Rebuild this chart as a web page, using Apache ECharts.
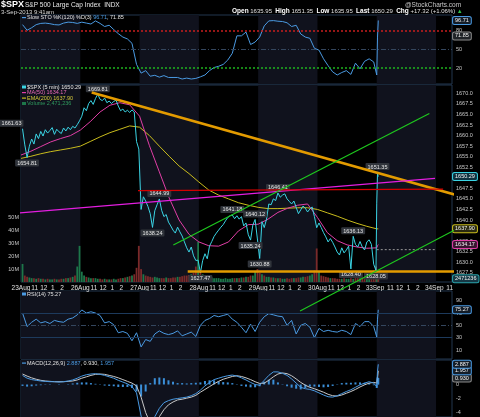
<!DOCTYPE html>
<html>
<head>
<meta charset="utf-8">
<title>$SPX 5 min</title>
<script src="https://cdn.jsdelivr.net/npm/echarts@6.0.0/dist/echarts.min.js"></script>
<style>
  html, body { margin: 0; padding: 0; background: #000; }
  #chart { width: 480px; height: 417px; }
</style>
</head>
<body>
<div id="chart"></div>
<script>
// ---- values ----
const BARS = 78;                    // 5-min bars in one session
const X_MAX = 567;                  // 7 sessions + start of 4 Sep
const tailBars = [468, 469, 470];   // 3 Sep 9:30, 9:35, 9:40

const days = ['23Aug', '26Aug', '27Aug', '28Aug', '29Aug', '30Aug', '3Sep', '4Sep'];
const hourTicks = [[18, '11'], [30, '12'], [42, '1'], [54, '2'], [66, '3']];
const threeShownOn = ['30Aug', '3Sep'];
const priceTicks = [1627.5, 1630.0, 1632.5, 1635.0, 1637.5, 1640.0, 1642.5, 1645.0, 1647.5,
  1650.0, 1652.5, 1655.0, 1657.5, 1660.0, 1662.5, 1665.0, 1667.5, 1670.0];
const volumeTicks = [10, 20, 30, 40, 50];
const stoTicks = [20, 50, 80];
const rsiTicks = [10, 30, 50, 70, 90];
const macdTicks = [-4, -2, 0];

// $SPX closes, every 3rd bar of each session (26 per day)
const spx = [
  1661.63, 1657.8, 1654.81, 1657.5, 1659.2, 1658.0, 1660.4, 1659.3, 1661.0, 1659.9, 1661.4, 1660.6, 1661.2,
  1661.9, 1660.3, 1661.5, 1660.9, 1660.5, 1661.8, 1661.1, 1662.0, 1661.4, 1662.2, 1661.8, 1662.6, 1663.5,
  1664.6, 1666.6, 1665.9, 1667.6, 1668.3, 1667.4, 1668.8, 1669.81, 1668.6, 1668.3, 1668.9, 1667.8, 1668.2,
  1667.6, 1668.1, 1668.4, 1667.0, 1665.9, 1666.3, 1665.6, 1666.0, 1665.5, 1666.1, 1665.6, 1658.6, 1656.8,
  1642.5, 1645.5, 1644.5, 1643.2, 1641.5, 1638.24, 1642.2, 1643.6, 1644.99, 1642.3, 1640.8, 1641.3, 1639.5,
  1638.6, 1637.6, 1636.9, 1638.3, 1637.2, 1636.2, 1634.8, 1633.4, 1632.4, 1633.6, 1631.5, 1630.4, 1630.48,
  1627.47, 1630.4, 1632.0, 1630.8, 1633.8, 1634.9, 1636.1, 1636.9, 1637.6, 1638.3, 1638.9, 1639.8, 1640.6,
  1641.0, 1641.18, 1640.3, 1641.0, 1640.2, 1640.8, 1638.6, 1639.3, 1636.5, 1635.24, 1638.8, 1640.12, 1635.5,
  1630.88, 1639.6, 1638.2, 1640.2, 1643.8, 1643.6, 1645.0, 1644.6, 1646.41, 1645.4, 1645.9, 1646.2, 1645.0,
  1644.4, 1643.8, 1644.5, 1643.0, 1641.5, 1642.4, 1643.3, 1642.8, 1641.9, 1642.6, 1643.1, 1640.8, 1638.17,
  1639.3, 1638.2, 1637.0, 1636.0, 1634.8, 1635.6, 1634.7, 1633.6, 1632.4, 1631.7, 1633.4, 1632.2, 1632.9,
  1633.8, 1628.40, 1636.13, 1634.2, 1633.6, 1634.9, 1633.6, 1632.9, 1634.8, 1635.3, 1634.2, 1629.5, 1628.05
];
const spxTail = [1644.0, 1651.0, 1650.29];
const prevClose = 1632.97;

// volume in millions, same bars as spx
const volume = [
  14, 5, 4, 3.5, 3, 3, 2.5, 3, 2.5, 2.5, 2, 2.5, 2, 2, 2.5, 2, 2, 2.5, 2.5, 3, 3, 3.5, 4, 5, 12, 28,
  8, 5, 4, 3.5, 3, 3, 3, 2.5, 2.5, 2, 2.5, 2, 2, 2, 2.5, 2, 2.5, 3, 3, 3.5, 4, 4.5, 5, 6, 11, 28,
  10, 6, 5, 4.5, 4, 3.5, 4, 3.5, 3, 3, 3, 3.5, 3, 3, 3.5, 3.5, 4, 4, 4.5, 5, 5, 5.5, 6, 7, 12, 31,
  9, 6, 5, 4, 3.5, 3.5, 3, 3, 3, 2.5, 2.5, 3, 2.5, 2.5, 3, 3, 3, 3, 3.5, 3.5, 4, 4, 5, 5, 8, 10,
  7, 6, 5, 4, 4, 3.5, 3.5, 3, 3, 3, 2.5, 2.5, 3, 2.5, 3, 3, 3, 3.5, 3.5, 4, 4, 4.5, 5, 6, 9, 26,
  8, 5, 4.5, 4, 3.5, 3, 3, 3, 2.5, 2.5, 2.5, 3, 2.5, 2.5, 3, 2.5, 3, 3, 3, 3.5, 3.5, 4, 5, 6, 9, 12
];
const volumeTail = [8, 5, 2.471236];

// MA(50) and EMA(200), every 13th bar from 23 Aug open
const ma50 = [1655.4, 1656.3, 1657.4, 1658.5, 1659.3, 1660.0, 1661.3, 1663.3, 1665.6, 1667.2, 1667.8, 1667.3,
  1664.6, 1657.6, 1651.4, 1645.2, 1640.0, 1636.6, 1634.8, 1633.9, 1633.8, 1634.8, 1637.4, 1638.9, 1639.0,
  1640.2, 1641.8, 1642.8, 1643.5, 1643.8, 1640.6, 1637.0, 1635.1, 1634.1, 1633.6, 1633.3, 1633.4];
const ma50Tail = [1633.9, 1634.17];
const ema200 = [1654.6, 1655.1, 1655.7, 1656.2, 1656.6, 1657.0, 1657.5, 1658.6, 1659.7, 1660.7, 1661.5, 1662.3,
  1662.0, 1660.0, 1657.5, 1655.1, 1652.8, 1651.0, 1649.0, 1647.1, 1645.9, 1645.0, 1644.1, 1643.5, 1643.0,
  1642.7, 1642.7, 1642.8, 1642.9, 1642.9, 1642.5, 1641.7, 1640.9, 1640.0, 1639.2, 1638.5, 1637.9];
const ema200Tail = [1637.9, 1637.90];

// indicators, every 6th bar of each session (13 per day)
const slowSto = [
  90, 81, 85, 90, 92, 92.5, 91.5, 90, 89.5, 92.5, 94, 93.5, 92,
  94, 92.5, 91, 96, 92, 87, 89, 82, 75.5, 70, 67, 60, 26,
  12, 16, 7, 8.5, 5.5, 8, 5, 5, 5, 2.5, 4, 2.5, 3.5,
  6, 9, 16, 21, 23, 26, 33, 44, 72, 72, 78, 58, 62,
  70, 88, 96, 96.5, 95.5, 95, 93, 87, 89, 75, 70, 68, 52,
  49, 35, 24, 14, 9, 13, 16, 10, 28, 19, 31, 35, 30
];
const slowStoTail = [9, 70, 96.71];
const rsi = [
  70, 48, 55, 60, 54, 56, 53, 58, 56, 55, 60, 62, 67,
  75, 70, 72, 70, 66, 54, 56, 51, 38, 40, 37, 25, 38,
  15, 27, 24, 36, 41, 37, 35, 37, 41, 33, 36, 39, 32,
  50, 58, 61, 66, 64, 66, 68, 60, 55, 47, 38, 52, 40,
  55, 64, 69, 67, 65, 64, 50, 58, 36, 50, 53, 47, 30,
  45, 40, 42, 40, 39, 42, 40, 35, 53, 48, 56, 56, 48
];
const rsiTail = [31, 60, 75.27];
const macd = [
  1.3, 0.9, 0.7, 0.6, 0.5, 0.45, 0.4, 0.4, 0.35, 0.4, 0.5, 0.65, 0.9,
  1.2, 1.4, 1.5, 1.55, 1.45, 1.3, 1.1, 0.9, 0.6, 0.35, 0.1, -0.3, -1.2,
  -4.5, -6.8, -6.0, -4.6, -3.4, -2.6, -2.3, -2.1, -2.0, -1.9, -1.8, -1.6, -1.3,
  -0.8, -0.2, 0.3, 0.7, 0.9, 1.1, 1.25, 1.35, 1.2, 0.95, 0.65, 0.3, 0.0,
  -0.1, 0.6, 1.3, 1.8, 1.8, 1.6, 1.3, 0.8, 0.2, -0.4, -0.6, -0.7, -0.9,
  -1.2, -1.5, -1.75, -1.8, -1.6, -1.3, -1.0, -0.75, -0.4, -0.05, 0.2, 0.4, 0.2
];
const macdTail = [-0.3, 1.9, 2.887];
const macdSignal = [
  1.5, 1.2, 0.95, 0.75, 0.6, 0.5, 0.45, 0.4, 0.4, 0.4, 0.45, 0.5, 0.65,
  0.9, 1.1, 1.3, 1.45, 1.5, 1.45, 1.3, 1.15, 0.95, 0.7, 0.45, 0.2, -0.2,
  -1.8, -4.0, -5.5, -5.6, -4.6, -3.6, -2.9, -2.5, -2.2, -2.1, -1.95, -1.8, -1.55,
  -1.1, -0.7, -0.3, 0.1, 0.45, 0.75, 0.95, 1.15, 1.25, 1.15, 0.95, 0.7, 0.4,
  0.15, 0.2, 0.6, 1.1, 1.5, 1.65, 1.55, 1.25, 0.8, 0.3, -0.1, -0.4, -0.6,
  -0.85, -1.1, -1.4, -1.6, -1.65, -1.5, -1.25, -1.0, -0.7, -0.35, -0.05, 0.2, 0.3
];
const macdSignalTail = [0.2, 0.9, 1.957];
const macdHist = [
  -0.2, -0.3, -0.25, -0.15, -0.1, -0.05, -0.05, 0, -0.05, 0, 0.05, 0.15, 0.25,
  0.3, 0.3, 0.2, 0.1, -0.05, -0.15, -0.2, -0.25, -0.35, -0.35, -0.35, -0.5, -1.0,
  -1.7, -1.0, 0.2, 0.9, 1.0, 0.9, 0.6, 0.4, 0.2, 0.2, 0.15, 0.2, 0.25,
  0.3, 0.5, 0.6, 0.6, 0.45, 0.35, 0.3, 0.2, -0.05, -0.2, -0.3, -0.4, -0.4,
  -0.25, 0.4, 0.7, 0.7, 0.3, -0.05, -0.25, -0.45, -0.6, -0.7, -0.5, -0.3, -0.3,
  -0.35, -0.4, -0.35, -0.2, 0.05, 0.2, 0.25, 0.25, 0.3, 0.3, 0.25, 0.2, -0.1
];
const macdHistTail = [-0.5, 1.0, 0.930];

// labelled highs and lows: [bar, price, side]
const priceNotes = [
  [2, 1661.63, 'topLeft'], [8, 1654.81, 'bottom'], [101, 1669.81, 'top'], [173, 1638.24, 'bottom'],
  [182, 1644.99, 'top'], [236, 1627.47, 'bottom'], [278, 1641.18, 'top'], [302, 1635.24, 'bottom'],
  [308, 1640.12, 'top'], [314, 1630.88, 'bottom'], [338, 1646.41, 'top'], [434, 1628.40, 'bottom'],
  [437, 1636.13, 'top'], [467, 1628.05, 'bottom'], [469, 1651.35, 'top']
];

// hand drawn trendlines: [[bar, price], [bar, price]]
const trendlines = [
  [[93.0, 1670.24], [603.9, 1644.31]],
  [[219.3, 1627.8], [597.4, 1627.8]],
  [[-27.6, 1641.28], [544.7, 1649.86]],
  [[153.9, 1646.97], [555.3, 1647.32]],
  [[200.4, 1634.05], [537.2, 1665.26]],
  [[367.1, 1618.41], [603.9, 1640.76]]
];

// ---- chart ----
const FONT = 'Liberation Sans';
const trendStyles = [
  { color: '#e39b00', width: 2.6 }, { color: '#e39b00', width: 2.6 },
  { color: '#e41ee0', width: 1.2 }, { color: '#d40000', width: 1.2 },
  { color: '#1ec81e', width: 1.2 }, { color: '#1ec81e', width: 1.2 }
];

const priceBar = i => Math.floor(i / 26) * BARS + 2 + (i % 26) * 3;
const indBar = i => Math.floor(i / 13) * BARS + 2 + (i % 13) * 6;
const avgBar = i => i * 13;
function points(values, barOf, tail, tailAt) {
  return values.map((v, i) => [barOf(i), v]).concat(tail.map((v, j) => [tailAt[j], v]));
}

const pricePts = points(spx, priceBar, spxTail, tailBars);
const volPts = points(volume, priceBar, volumeTail, tailBars).map((p, i) => {
  const up = i === 0 || pricePts[i][1] >= pricePts[i - 1][1];
  return { value: p, itemStyle: { color: up ? '#1d774a' : '#7a2a2a' } };
});

const xTicks = [];
days.forEach((d, i) => {
  xTicks.push([i * BARS, d]);
  hourTicks.forEach(([off, t]) => {
    const bar = i * BARS + off;
    if (bar > X_MAX) return;
    if (t === '3' && !threeShownOn.includes(d)) return;
    xTicks.push([bar, t]);
  });
});
const xTickText = {};
xTicks.forEach(([b, t]) => { xTickText[b] = t; });

const grids = [
  { left: 21, right: 28, top: 15, height: 69 },
  { left: 21, right: 28, top: 85, height: 197 },
  { left: 21, right: 28, top: 291, height: 68 },
  { left: 21, right: 28, top: 360, height: 57 }
].map(g => Object.assign(g, { show: true, borderColor: '#22364f', borderWidth: 1, backgroundColor: 'transparent' }));

const xAxes = [0, 1, 2, 3].map(g => ({
  type: 'value', gridIndex: g, min: 0, max: X_MAX,
  axisLine: { show: false }, axisTick: { show: false }, splitLine: { show: false },
  axisLabel: {
    show: g === 1, customValues: xTicks.map(t => t[0]), formatter: v => xTickText[v] || '',
    color: '#e0e0e0', fontSize: 6.5, fontFamily: FONT, margin: 3
  }
}));

function yAxis(grid, min, max, ticks, pos, fmt) {
  return {
    type: 'value', gridIndex: grid, min, max, position: pos || 'right',
    axisLine: { show: false }, axisTick: { show: false }, splitLine: { show: false },
    axisLabel: { customValues: ticks, formatter: fmt || (v => String(v)), color: '#c8c8c8',
      fontSize: 5.5, fontFamily: FONT, margin: pos === 'left' ? 2 : 4 }
  };
}
const yAxes = [
  yAxis(0, -5.5, 105.5, stoTicks),
  yAxis(1, 1625.3, 1672.0, priceTicks, 'right', v => v.toFixed(1)),
  yAxis(1, 0, 152.7, volumeTicks, 'left', v => v + 'M'),
  yAxis(2, -4.6, 105.7, rsiTicks),
  yAxis(3, -4.64, 3.5, macdTicks)
];

const sessionBands = [0, 2, 4, 6].map(d => [{ xAxis: d * BARS }, { xAxis: (d + 1) * BARS }]);
const shade = (g, y) => ({
  type: 'line', xAxisIndex: g, yAxisIndex: y, data: [], silent: true, z: 0,
  markArea: { silent: true, itemStyle: { color: '#10121d' }, data: sessionBands }
});

function valueBox(value, text, border, bg) {
  return {
    coord: [X_MAX, value], symbol: 'rect', symbolSize: 0.1, itemStyle: { color: 'rgba(0,0,0,0)' },
    label: {
      show: true, position: 'right', distance: 1, formatter: text, color: '#f2f2f2',
      fontSize: 5.5, fontFamily: FONT, backgroundColor: bg || '#141d28', borderColor: border,
      borderWidth: 1, borderRadius: 1.5, padding: [1, 2, 0, 2]
    }
  };
}
const boxes = (list) => ({ silent: true, animation: false, data: list });

const line = (g, y, data, color, extra) => Object.assign({
  type: 'line', xAxisIndex: g, yAxisIndex: y, data, symbol: 'none', silent: true,
  lineStyle: { color, width: 1 }, itemStyle: { color }, z: 3
}, extra || {});

const notePts = priceNotes.map(([bar, v, side]) => ({
  coord: [bar, v], symbol: 'rect', symbolSize: 0.1, itemStyle: { color: 'rgba(0,0,0,0)' },
  label: {
    show: true, position: side === 'bottom' ? 'bottom' : 'top', distance: 2,
    offset: side === 'topLeft' ? [-11, 0] : [0, 0], formatter: v.toFixed(2),
    color: '#e6e6e6', fontSize: 5.5, fontFamily: FONT, backgroundColor: '#30343b',
    padding: [1, 2, 0, 2], borderRadius: 1
  }
}));

const series = [
  shade(0, 0), shade(1, 1), shade(2, 3), shade(3, 4),
  {
    type: 'bar', xAxisIndex: 1, yAxisIndex: 2, data: volPts, barWidth: 1.8, silent: true, z: 1,
    markPoint: boxes([valueBox(volumeTail[2], '2471236', '#2aa0a8', '#163845')])
  },
  line(1, 1, points(ema200, avgBar, ema200Tail, [469, 470]), '#c9bc1c', {
    markPoint: boxes([valueBox(1637.90, '1637.90', '#c9bc1c', '#2a2a10')])
  }),
  line(1, 1, points(ma50, avgBar, ma50Tail, [469, 470]), '#e13ea6', {
    markPoint: boxes([valueBox(1634.17, '1634.17', '#e13ea6', '#3a1530')])
  }),
  line(1, 1, pricePts, '#3ad4e4', {
    z: 4,
    markPoint: { silent: true, data: notePts.concat([valueBox(1650.29, '1650.29', '#3ad4e4', '#0f3340')]) }
  }),
  line(1, 1, [[tailBars[0], prevClose], [days.indexOf('4Sep') * BARS, prevClose]], '#9a9a9a', {
    lineStyle: { color: '#9a9a9a', width: 1, type: [2, 2] }
  }),
  line(0, 0, points(slowSto, indBar, slowStoTail, tailBars), '#4a9ae2', {
    markLine: {
      silent: true, symbol: 'none', label: { show: false }, animation: false,
      data: [
        { yAxis: stoTicks[2], lineStyle: { color: '#c81e1e', type: [2, 2], width: 1.5 } },
        { yAxis: stoTicks[1], lineStyle: { color: '#34465e', type: [5, 2, 1, 2], width: 1 } },
        { yAxis: stoTicks[0], lineStyle: { color: '#1eb41e', type: [2, 2], width: 1.5 } }
      ]
    },
    markPoint: boxes([valueBox(96.71, '96.71', '#4a9ae2'), valueBox(71.85, '71.85', '#8a8a8a', '#202428')])
  }),
  line(2, 3, points(rsi, indBar, rsiTail, tailBars), '#4a9ae2', {
    markLine: {
      silent: true, symbol: 'none', label: { show: false }, animation: false,
      data: [
        { yAxis: rsiTicks[3], lineStyle: { color: '#1d3a5c', type: 'solid', width: 1 } },
        { yAxis: rsiTicks[2], lineStyle: { color: '#34465e', type: [5, 2, 1, 2], width: 1 } },
        { yAxis: rsiTicks[1], lineStyle: { color: '#1d3a5c', type: 'solid', width: 1 } }
      ]
    },
    markPoint: boxes([valueBox(75.27, '75.27', '#4a9ae2')])
  }),
  {
    type: 'bar', xAxisIndex: 3, yAxisIndex: 4, barWidth: 2, silent: true, z: 2,
    data: points(macdHist, indBar, macdHistTail, tailBars), itemStyle: { color: '#3b8fd8' },
    markPoint: boxes([valueBox(0.930, '0.930', '#8a8a8a', '#202428')])
  },
  line(3, 4, points(macdSignal, indBar, macdSignalTail, tailBars), '#c8c8c8', {
    markPoint: boxes([valueBox(1.957, '1.957', '#4a9ae2')])
  }),
  line(3, 4, points(macd, indBar, macdTail, tailBars), '#4a9ae2', {
    markPoint: boxes([valueBox(2.887, '2.887', '#4a9ae2')])
  })
];

trendlines.forEach((pts, i) => {
  series.push({
    type: 'line', xAxisIndex: 1, yAxisIndex: 1, data: pts, symbol: 'none', silent: true,
    clip: false, z: 6, lineStyle: trendStyles[i]
  });
});

const txt = (x, y, text, fill, size, weight, rich) => ({
  type: 'text', x, y, silent: true, z: 100,
  style: { text, fill, font: (weight || 'normal') + ' ' + size + 'px ' + FONT, verticalAlign: 'middle', rich }
});
const swatch = (x, y, color, h) => ({
  type: 'rect', silent: true, z: 100, shape: { x, y: y - (h || 1) / 2, width: 4, height: h || 1.2 },
  style: { fill: color }
});
const bold = { b: { fill: '#ffffff', font: 'bold 6.5px ' + FONT } };

const graphic = [
  txt(1, 5, '$SPX', '#ffffff', 9, 'bold'),
  txt(25, 5.5, 'S&P 500 Large Cap Index  INDX', '#e8e8e8', 6.5),
  txt(1, 12, '3-Sep-2013 9:41am', '#d8d8d8', 6),
  txt(405, 5, '@StockCharts.com', '#c8c8c8', 6.5),
  txt(232, 11, '{b|Open} 1635.95  {b|High} 1651.35  {b|Low} 1635.95  {b|Last} 1650.29  {b|Chg} +17.32 (+1.06%) {g|\u25B2}',
    '#e0e0e0', 6, 'normal', Object.assign({ g: { fill: '#2ec04a', font: '6px ' + FONT } }, bold)),
  swatch(22, 17.5, '#4a9ae2'),
  txt(27, 17.5, 'Slow STO %K(120) %D(3) {v|96.71}, 71.85', '#e0e0e0', 5.5, 'normal',
    { v: { fill: '#4a9ae2', font: '5.5px ' + FONT } }),
  swatch(22, 87, '#3ad4e4', 3),
  txt(27, 87, '$SPX (5 min) 1650.29', '#e8e8e8', 5.5),
  swatch(22, 92.5, '#e13ea6'),
  txt(27, 92.5, 'MA(50) 1634.17', '#e86ab8', 5.5),
  swatch(22, 98, '#c9bc1c'),
  txt(27, 98, 'EMA(200) 1637.90', '#d4c83a', 5.5),
  swatch(22, 103.5, '#1d774a', 3),
  txt(27, 103.5, 'Volume 2,471,236', '#2f9a5e', 5.5),
  swatch(22, 294, '#4a9ae2', 3),
  txt(27, 294, 'RSI(14) 75.27', '#e0e0e0', 5.5),
  swatch(22, 363, '#4a9ae2'),
  txt(27, 363, 'MACD(12,26,9) {v|2.887}, 0.930, {v|1.957}', '#e0e0e0', 5.5, 'normal',
    { v: { fill: '#4a9ae2', font: '5.5px ' + FONT } })
];

const chart = echarts.init(document.getElementById('chart'));
chart.setOption({
  backgroundColor: '#000000',
  animation: false,
  textStyle: { fontFamily: FONT },
  grid: grids,
  xAxis: xAxes,
  yAxis: yAxes,
  series,
  graphic
});
</script>
</body>
</html>
